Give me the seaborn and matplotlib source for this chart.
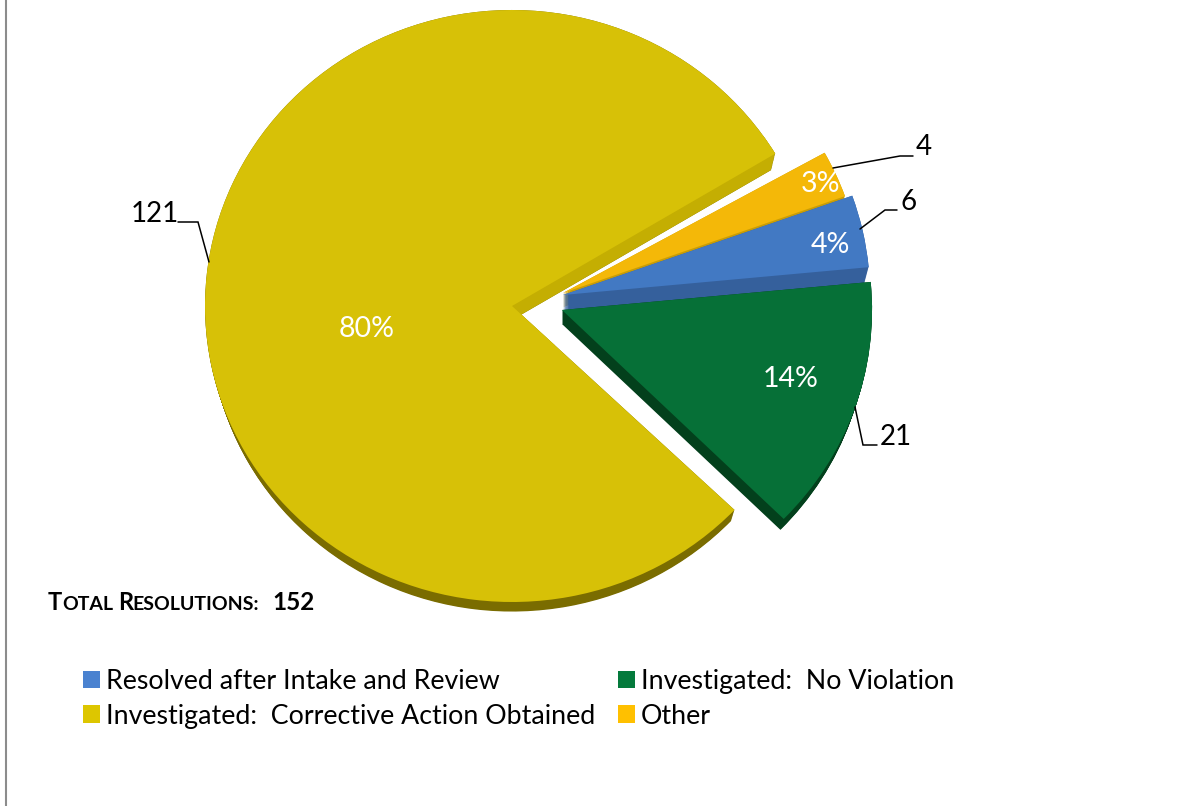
import matplotlib
matplotlib.use("Agg")
import matplotlib.pyplot as plt
from matplotlib.patches import Wedge, Patch, Rectangle
import seaborn as sns

categories = ["Resolved after Intake and Review", "Investigated:  No Violation",
              "Investigated:  Corrective Action Obtained", "Other"]
counts = [6, 21, 121, 4]
total_resolutions = 152

face_colors = ["#4279C3", "#067037", "#D7C107", "#F4B808"]
wall_colors = ["#35609C", "#03401C", "#7A6C00", "#C99D06"]
legend_colors = ["#4A82D0", "#047A3C", "#DDC600", "#FFC000"]

W, H = 1192, 806
RX, RY = 307.0, 296.0   # tilted pie: horizontal and vertical radius in pixels
depths = [17, 14, 14, 14]  # extrusion height of each slice in pixels

# apex of every slice in pixel coordinates, y measured from the top
apex = [(563, 295), (562, 310), (512, 306), (563, 293)]
# camera perspective bends the slice edges slightly: degrees added to each end, and radius
edge_skew = [(0, 0), (0, 0), (1.9, 0.8), (0, 0)]
radii = [1.0, 1.01, 1.0, 0.975]

sns.set_theme(style="white")
plt.rcParams["font.family"] = ["Lato", "DejaVu Sans"]
plt.rcParams["text.color"] = "black"

fig = plt.figure(figsize=(W / 100, H / 100), dpi=100)
ax = fig.add_axes([0, 0, 1, 1])


def to_data(px, py):
    return px / RX, (H - py) / RY


wedges, _, autotexts = ax.pie(counts, colors=face_colors, startangle=19.6, counterclock=False,
                              autopct="%.0f%%", textprops=dict(color="white", fontsize=20.5))
ax.set_aspect("auto")
ax.set_xlim(0, W / RX)
ax.set_ylim(0, H / RY)
ax.axis("off")

draw_order = [2, 3, 0, 1]
for rank, i in enumerate(draw_order):
    w = wedges[i]
    w.set_theta1(w.theta1 + edge_skew[i][0])
    w.set_theta2(w.theta2 + edge_skew[i][1])
    w.set_radius(radii[i])
    base = 10 + rank * 3
    depth = depths[i]
    for step in range(depth + 1):
        frac = step / depth
        cx, cy = to_data(apex[i][0], apex[i][1] + step)
        ax.add_patch(Wedge((cx, cy), radii[i] - 0.015 * frac, w.theta1, w.theta2,
                           fc=wall_colors[i], ec="none", zorder=base))
    if i == 2:
        # the inner cut of the large slice catches more light than its rim
        band = Rectangle(to_data(505, 345), 300 / RX, 210 / RY, transform=ax.transData)
        for step in range(depth + 1):
            frac = step / depth
            cx, cy = to_data(apex[i][0], apex[i][1] + step)
            p = Wedge((cx, cy), radii[i] - 0.015 * frac, w.theta1, w.theta2,
                      fc="#C4AE02", ec="none", zorder=base + 0.5)
            ax.add_patch(p)
            p.set_clip_path(band)
    w.set_center(to_data(*apex[i]))
    w.set_zorder(base + 1)
    w.set_edgecolor("none")
    w.set_linewidth(0)

pct_positions = [(830, 245), (791, 379), (367, 329), (821, 184)]
for t, pos in zip(autotexts, pct_positions):
    t.set_position(to_data(*pos))
    t.set_ha("center")
    t.set_va("center")
    t.set_zorder(30)

# overlay in pixel coordinates for leaders, side labels and the frame line
ov = fig.add_axes([0, 0, 1, 1], facecolor="none")
ov.set_xlim(0, W)
ov.set_ylim(H, 0)
ov.axis("off")

ov.plot([6, 6], [0, H], color="#8C8C8C", lw=1.5, solid_capstyle="butt")

leaders = [
    ([860, 885, 897], [229, 210, 210], (909, 202)),
    ([855, 863, 877], [407, 445, 445], (896, 437)),
    ([209, 198, 178], [262, 222, 222], (155, 214)),
    ([833, 900, 913], [168, 156, 156], (924, 147)),
]
for n, (xs, ys, pos) in zip(counts, leaders):
    ov.plot(xs, ys, color="black", lw=1.1, solid_joinstyle="miter")
    ov.text(pos[0], pos[1], str(n), ha="center", va="center", fontsize=20, color="black")

# small-caps heading assembled from two cap sizes
heading = [("T", 48, 17), ("OTAL", 62, 14), ("R", 118, 17), ("ESOLUTIONS:", 132, 14),
           (str(total_resolutions), 272, 17.5)]
for seg, x, size in heading:
    ov.text(x, 610, seg, fontsize=size, fontweight="bold", color="black", ha="left", va="baseline")

handles = [Patch(fc=c, ec="none") for c in legend_colors]
order = [0, 2, 1, 3]
legend_pt = 19.3
font_px = legend_pt * 100 / 72
ov.legend([handles[i] for i in order], [categories[i] for i in order], ncol=2, frameon=False,
          fontsize=legend_pt, labelcolor="black", handlelength=17 / font_px, handleheight=17 / font_px,
          handletextpad=6 / font_px, columnspacing=23 / font_px, labelspacing=0.36,
          loc="upper left", bbox_to_anchor=(83, 669), bbox_transform=ov.transData,
          borderpad=0, borderaxespad=0)

fig.savefig("out.png", dpi=100)
